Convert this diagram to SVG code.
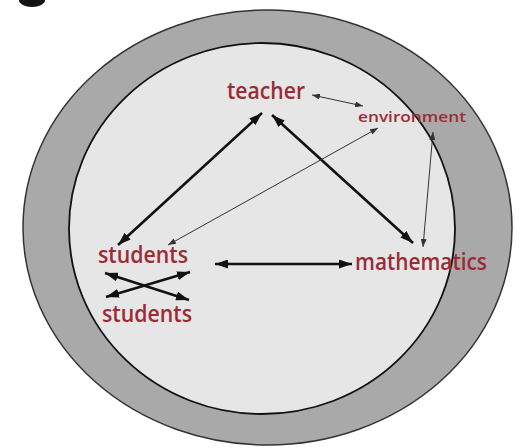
<svg xmlns="http://www.w3.org/2000/svg" width="523" height="448" viewBox="0 0 523 448">
<style>
  .lbl { font-family: "Open Sans", "Liberation Sans", sans-serif; fill: #9b2c35; font-weight: 600; }
  .big { font-size: 23px; }
  .small { font-size: 15px; }
  .thick { stroke: #111; stroke-width: 2.6; fill: none; }
  .thin { stroke: #333; stroke-width: 1; fill: none; }
</style>
<defs>
  <marker id="hb" viewBox="0 0 13 9" refX="13" refY="4.5" markerWidth="13" markerHeight="9" markerUnits="userSpaceOnUse" orient="auto-start-reverse">
    <path d="M0,0 L13,4.5 L0,9 z" fill="#111"/>
  </marker>
  <marker id="hs" viewBox="0 0 8 6" refX="8" refY="3" markerWidth="8" markerHeight="6" markerUnits="userSpaceOnUse" orient="auto-start-reverse">
    <path d="M0,0 L8,3 L0,6 z" fill="#333"/>
  </marker>
</defs>
<rect x="0" y="0" width="523" height="448" fill="#ffffff"/>
<ellipse cx="32" cy="0" rx="13" ry="7" fill="#111"/>
<g id="context">
  <ellipse cx="267.5" cy="227.5" rx="244.5" ry="217.5" fill="#a9a9a9" stroke="#333" stroke-width="1.5"/>
  <ellipse cx="262" cy="228.5" rx="193" ry="185.5" fill="#e6e6e6" stroke="#111" stroke-width="1.8"/>
</g>
<g id="connectors">
  <line class="thick" x1="262" y1="113" x2="118" y2="245" marker-start="url(#hb)" marker-end="url(#hb)"/>
  <line class="thick" x1="272" y1="115" x2="413" y2="243" marker-start="url(#hb)" marker-end="url(#hb)"/>
  <line class="thick" x1="215" y1="264" x2="352" y2="264" marker-start="url(#hb)" marker-end="url(#hb)"/>
  <line class="thick" x1="105" y1="273" x2="189" y2="300" marker-start="url(#hb)" marker-end="url(#hb)"/>
  <line class="thick" x1="190" y1="272" x2="106" y2="297" marker-start="url(#hb)" marker-end="url(#hb)"/>
  <line class="thin" x1="378" y1="128" x2="168" y2="245" marker-start="url(#hs)" marker-end="url(#hs)"/>
  <line class="thin" x1="312" y1="95" x2="363" y2="106" marker-start="url(#hs)" marker-end="url(#hs)"/>
  <line class="thin" x1="433" y1="132" x2="423" y2="247" marker-start="url(#hs)" marker-end="url(#hs)"/>
</g>
<g id="teacher"><text class="lbl big" x="227" y="99" textLength="78" lengthAdjust="spacingAndGlyphs">teacher</text></g>
<g id="environment"><text class="lbl small" x="358" y="122" textLength="108" lengthAdjust="spacingAndGlyphs">environment</text></g>
<g id="students1"><text class="lbl big" x="98" y="263" textLength="90" lengthAdjust="spacingAndGlyphs">students</text></g>
<g id="mathematics"><text class="lbl big" x="355" y="270" textLength="132" lengthAdjust="spacingAndGlyphs">mathematics</text></g>
<g id="students2"><text class="lbl big" x="102" y="322" textLength="90" lengthAdjust="spacingAndGlyphs">students</text></g>
</svg>
